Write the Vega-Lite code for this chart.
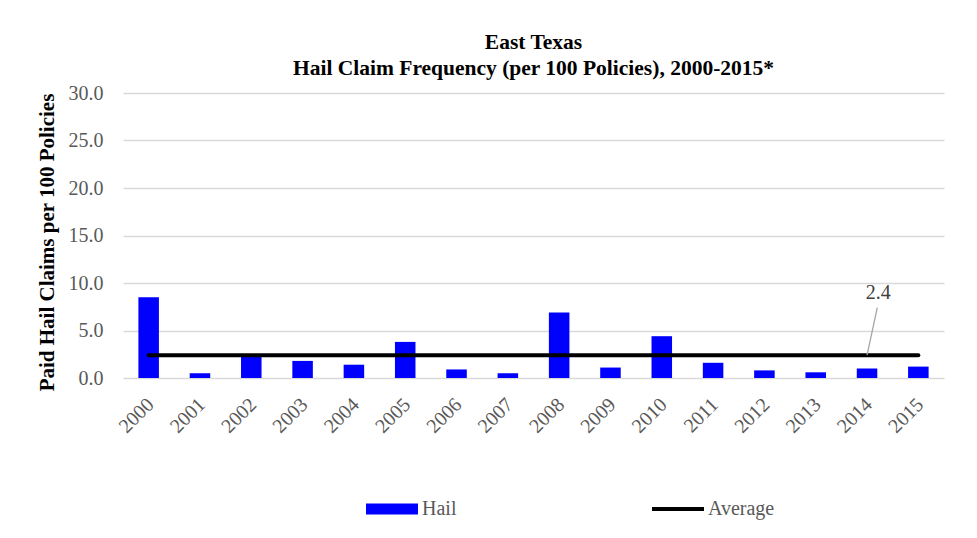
{
  "$schema": "https://vega.github.io/schema/vega-lite/v6.json",
  "autosize": "none",
  "width": 821,
  "height": 285,
  "padding": {"left": 123, "top": 93, "right": 33, "bottom": 160},
  "background": "white",
  "config": {
    "font": "Liberation Serif",
    "view": {"stroke": null}
  },
  "title": {
    "text": ["East Texas", "Hail Claim Frequency (per 100 Policies), 2000-2015*"],
    "font": "Liberation Serif",
    "fontSize": 21.5,
    "fontWeight": "bold",
    "color": "#000000",
    "lineHeight": 26,
    "anchor": "middle",
    "offset": 4
  },
  "datasets": {
    "claims": [
      {"year": "2000", "hail": 8.5, "avg": 2.4},
      {"year": "2001", "hail": 0.5, "avg": 2.4},
      {"year": "2002", "hail": 2.3, "avg": 2.4},
      {"year": "2003", "hail": 1.8, "avg": 2.4},
      {"year": "2004", "hail": 1.4, "avg": 2.4},
      {"year": "2005", "hail": 3.8, "avg": 2.4},
      {"year": "2006", "hail": 0.9, "avg": 2.4},
      {"year": "2007", "hail": 0.5, "avg": 2.4},
      {"year": "2008", "hail": 6.9, "avg": 2.4},
      {"year": "2009", "hail": 1.1, "avg": 2.4},
      {"year": "2010", "hail": 4.4, "avg": 2.4},
      {"year": "2011", "hail": 1.6, "avg": 2.4},
      {"year": "2012", "hail": 0.8, "avg": 2.4},
      {"year": "2013", "hail": 0.6, "avg": 2.4},
      {"year": "2014", "hail": 1.0, "avg": 2.4},
      {"year": "2015", "hail": 1.2, "avg": 2.4}
    ],
    "leader": [
      {"lx": 2014.0, "ly": 2.4},
      {"lx": 2014.2, "ly": 7.4}
    ],
    "label": [
      {"lx": 2014.22, "ly": 8.9, "txt": "2.4"}
    ]
  },
  "resolve": {"scale": {"x": "independent"}},
  "layer": [
    {
      "data": {"name": "claims"},
      "mark": {"type": "bar"},
      "encoding": {
        "x": {
          "field": "year",
          "type": "nominal",
          "scale": {"paddingInner": 0.6, "paddingOuter": 0.3},
          "axis": {
            "title": null,
            "labelAngle": -45,
            "labelFont": "Liberation Serif",
            "labelFontSize": 20,
            "labelColor": "#595959",
            "labelPadding": 16,
            "labelOffset": -5,
            "ticks": false,
            "domain": false,
            "grid": false
          }
        },
        "y": {
          "field": "hail",
          "type": "quantitative",
          "scale": {"domain": [0, 30], "nice": false},
          "axis": {
            "title": "Paid Hail Claims per 100 Policies",
            "titleFont": "Liberation Serif",
            "titleFontSize": 21,
            "titleFontWeight": "bold",
            "titleColor": "#000000",
            "titlePadding": 11,
            "titleY": 149,
            "values": [0, 5, 10, 15, 20, 25, 30],
            "format": ".1f",
            "labelFont": "Liberation Serif",
            "labelFontSize": 20,
            "labelColor": "#595959",
            "labelPadding": 20,
            "ticks": false,
            "domain": false,
            "gridColor": "#d9d9d9",
            "gridWidth": 1.3
          }
        },
        "color": {
          "datum": "Hail",
          "type": "nominal",
          "scale": {"domain": ["Hail", "Average"], "range": ["#0000ff", "#000000"]},
          "legend": {
            "title": null,
            "orient": "none",
            "legendX": 244,
            "legendY": 406,
            "direction": "horizontal",
            "columns": 2,
            "columnPadding": 187,
            "symbolSize": 2704,
            "symbolOffset": 15,
            "labelFont": "Liberation Serif",
            "labelFontSize": 20,
            "labelColor": "#595959",
            "labelOffset": 20,
            "encode": {
              "symbols": {
                "update": {
                  "shape": {"signal": "datum.value === 'Hail' ? 'M-1,-0.21H1V0.21H-1Z' : 'M-1,0H1'"},
                  "fill": {"signal": "datum.value === 'Hail' ? '#0000ff' : 'transparent'"},
                  "stroke": {"signal": "datum.value === 'Hail' ? 'transparent' : '#000000'"},
                  "strokeWidth": {"signal": "datum.value === 'Hail' ? 0 : 4"},
                  "opacity": {"value": 1}
                }
              }
            }
          }
        }
      }
    },
    {
      "data": {"name": "claims"},
      "mark": {"type": "line", "strokeWidth": 4, "strokeCap": "round"},
      "encoding": {
        "x": {
          "field": "year",
          "type": "nominal",
          "scale": {"paddingInner": 0.6, "paddingOuter": 0.3},
          "axis": null
        },
        "y": {"field": "avg", "type": "quantitative"},
        "color": {"datum": "Average", "type": "nominal"}
      }
    },
    {
      "data": {"name": "leader"},
      "mark": {"type": "line", "color": "#a6a6a6", "strokeWidth": 1.3},
      "encoding": {
        "x": {
          "field": "lx",
          "type": "quantitative",
          "scale": {"domain": [1999.5, 2015.5], "nice": false, "zero": false},
          "axis": null
        },
        "y": {"field": "ly", "type": "quantitative"}
      }
    },
    {
      "data": {"name": "label"},
      "mark": {"type": "text", "font": "Liberation Serif", "fontSize": 20, "color": "#404040", "baseline": "middle", "align": "center"},
      "encoding": {
        "x": {
          "field": "lx",
          "type": "quantitative",
          "scale": {"domain": [1999.5, 2015.5], "nice": false, "zero": false},
          "axis": null
        },
        "y": {"field": "ly", "type": "quantitative"},
        "text": {"field": "txt"}
      }
    }
  ]
}
